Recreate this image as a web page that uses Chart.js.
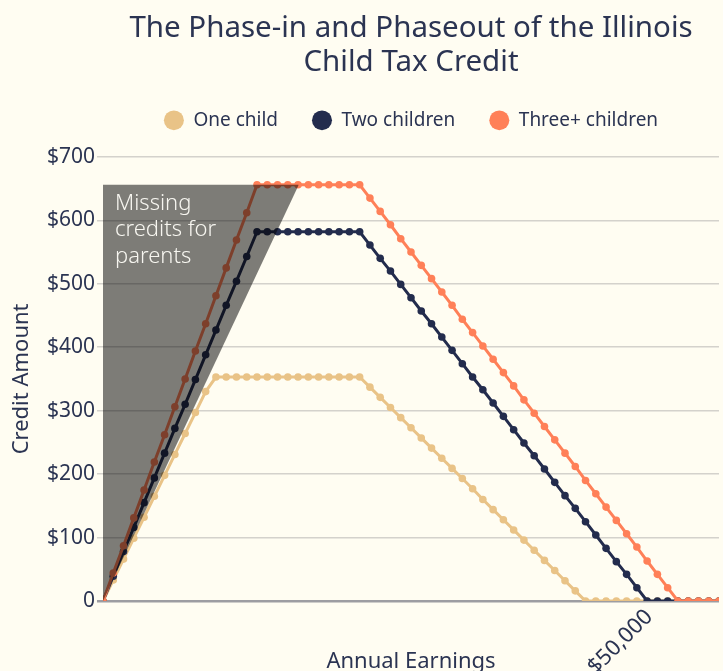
<!DOCTYPE html>
<html>
<head>
<meta charset="utf-8">
<script src="https://cdn.jsdelivr.net/npm/chart.js@4"></script>
<style>
  html, body { margin: 0; padding: 0; background: #fffdf2; overflow: hidden; }
  #wrap { width: 723px; height: 671px; overflow: hidden; }
</style>
</head>
<body>
<div id="wrap"><canvas id="ctcChart" width="723" height="675"></canvas></div>
<script>
// Annual earnings for each plotted point (dollars)
var earnings = [0, 940, 1880, 2820, 3760, 4700, 5640, 6580, 7520, 8460,
    9400, 10340, 11280, 12220, 13160, 14100, 15040, 15980, 16920, 17860,
    18800, 19740, 20680, 21620, 22560, 23500, 24440, 25380, 26320, 27260,
    28200, 29140, 30080, 31020, 31960, 32900, 33840, 34780, 35720, 36660,
    37600, 38540, 39480, 40420, 41360, 42300, 43240, 44180, 45120, 46060,
    47000, 47940, 48880, 49820, 50760, 51700, 52640, 53580, 54520, 55460, 56400];

var oneChild = [0, 33, 66, 99, 132, 165, 198, 231, 264, 297, 330, 353,
    353, 353, 353, 353, 353, 353, 353, 353, 353, 353, 353, 353, 353, 353,
    337, 321, 305, 289, 273, 257, 241, 225, 209, 193,
    177, 160, 144, 128, 112, 96, 80, 64, 48, 32,
    16, 0, 0, 0, 0, 0, 0, 0, 0, 0, 0, 0, 0, 0, 0];

var twoChildren = [0, 39, 78, 116, 155, 194, 233, 272, 310, 349, 388, 427, 466, 504, 543, 582,
    582, 582, 582, 582, 582, 582, 582, 582, 582, 582,
    561, 540, 520, 499, 478, 457, 437, 416, 395, 374,
    353, 333, 312, 291, 270, 249, 229, 208, 187, 166,
    146, 125, 104, 83, 62, 42, 21, 0, 0, 0,
    0, 0, 0, 0, 0];

var threeChildren = [0, 44, 87, 131, 175, 219, 262, 306, 350, 394, 437, 481, 525, 569, 612, 656,
    656, 656, 656, 656, 656, 656, 656, 656, 656, 656,
    635, 614, 593, 571, 550, 529, 508, 487, 466, 444,
    423, 402, 381, 360, 339, 317, 296, 275, 254, 233,
    212, 190, 169, 148, 127, 106, 85, 63, 42, 21,
    0, 0, 0, 0, 0];

// shaded "missing credits" wedge
var gapEarnings = [0, 17925];
var gapCredits = [0, 656];
var gapLabel = ['Missing', 'credits for', 'parents'];

var yTicks = [0, 100, 200, 300, 400, 500, 600, 700];
var xTicks = [50000];

var navy = '#2b3452';
var fontFamily = "'Noto Sans', sans-serif";

function toPoints(xs, ys) {
    return xs.map(function(x, i) { return { x: x, y: ys[i] }; });
}

function lineSet(label, values, color, order) {
    return {
        label: label,
        data: toPoints(earnings, values),
        borderColor: color,
        backgroundColor: color,
        pointBackgroundColor: color,
        pointBorderWidth: 0,
        pointRadius: 3.8,
        borderWidth: 3,
        tension: 0,
        fill: false,
        order: order
    };
}

// white text inside the grey wedge
var gapTextPlugin = {
    id: 'gapText',
    afterDatasetsDraw: function(chart) {
        var x = chart.scales.x.getPixelForValue(0) + 12;
        var top = chart.scales.y.getPixelForValue(gapCredits[1]);
        var ctx = chart.ctx;
        ctx.save();
        ctx.fillStyle = '#f7f6f0';
        ctx.font = '300 22px ' + fontFamily;
        ctx.textBaseline = 'alphabetic';
        gapLabel.forEach(function(line, i) {
            ctx.fillText(line, x, top + 25 + i * 26.5);
        });
        ctx.restore();
    }
};

// extra room between legend and plot
var legendGapPlugin = {
    id: 'legendGap',
    beforeInit: function(chart) {
        var fit = chart.legend.fit;
        chart.legend.fit = function() {
            fit.call(this);
            this.height += 17;
        };
    }
};

var bgPlugin = {
    id: 'bg',
    beforeDraw: function(chart) {
        var ctx = chart.ctx;
        ctx.save();
        ctx.fillStyle = '#fffdf2';
        ctx.fillRect(0, 0, chart.width, chart.height);
        ctx.restore();
    }
};

new Chart(document.getElementById('ctcChart'), {
    type: 'line',
    data: {
        datasets: [
            lineSet('One child', oneChild, '#e9c387', 3),
            lineSet('Two children', twoChildren, '#232c4d', 2),
            lineSet('Three+ children', threeChildren, '#ff8058', 1),
            {
                label: 'gap',
                data: toPoints(gapEarnings, gapCredits),
                borderWidth: 0,
                pointRadius: 0,
                backgroundColor: 'rgba(0,0,0,0.51)',
                fill: { value: gapCredits[1] },
                order: 0
            }
        ]
    },
    options: {
        responsive: false,
        animation: false,
        layout: { padding: { left: 9, right: 0, top: 12, bottom: 0 } },
        plugins: {
            title: {
                display: true,
                text: ['The Phase-in and Phaseout of the Illinois', 'Child Tax Credit'],
                color: navy,
                fullSize: false,
                font: { family: fontFamily, size: 29.5, weight: '400', lineHeight: 1.15 },
                padding: { top: 0, bottom: -3 }
            },
            legend: {
                fullSize: false,
                labels: {
                    color: navy,
                    font: { family: fontFamily, size: 19 },
                    usePointStyle: true,
                    pointStyle: 'circle',
                    pointStyleWidth: 20,
                    boxHeight: 14,
                    padding: 34,
                    filter: function(item) { return item.text !== 'gap'; },
                    sort: function(a, b) { return a.datasetIndex - b.datasetIndex; }
                }
            },
            tooltip: { enabled: false }
        },
        scales: {
            x: {
                type: 'linear',
                min: 0,
                max: earnings[earnings.length - 1],
                afterBuildTicks: function(scale) {
                    scale.ticks = xTicks.map(function(v) { return { value: v }; });
                },
                afterFit: function(scale) { scale.height = 74; },
                grid: { display: false },
                border: { display: false },
                ticks: {
                    color: navy,
                    font: { family: fontFamily, size: 22 },
                    minRotation: 45,
                    maxRotation: 45,
                    padding: -5,
                    callback: function(v) { return '$' + v.toLocaleString('en-US'); }
                },
                title: {
                    display: true,
                    text: 'Annual Earnings',
                    color: navy,
                    font: { family: fontFamily, size: 22 },
                    padding: { top: 0, bottom: 0 }
                }
            },
            y: {
                min: 0,
                max: 700,
                afterBuildTicks: function(scale) {
                    scale.ticks = yTicks.map(function(v) { return { value: v }; });
                },
                afterFit: function(scale) { scale.width = 94; },
                border: { display: false },
                grid: {
                    color: function(c) { return c.tick && c.tick.value === 0 ? '#9d9da2' : '#d4d2cc'; },
                    lineWidth: function(c) { return c.tick && c.tick.value === 0 ? 2.5 : 1.5; },
                    tickLength: 6
                },
                ticks: {
                    color: navy,
                    font: { family: fontFamily, size: 21 },
                    padding: 2,
                    callback: function(v) { return v === 0 ? '0' : '$' + v; }
                },
                title: {
                    display: true,
                    text: 'Credit Amount',
                    color: navy,
                    font: { family: fontFamily, size: 22 },
                    padding: { top: 0, bottom: 4 }
                }
            }
        }
    },
    plugins: [bgPlugin, legendGapPlugin, gapTextPlugin]
});
</script>
</body>
</html>
